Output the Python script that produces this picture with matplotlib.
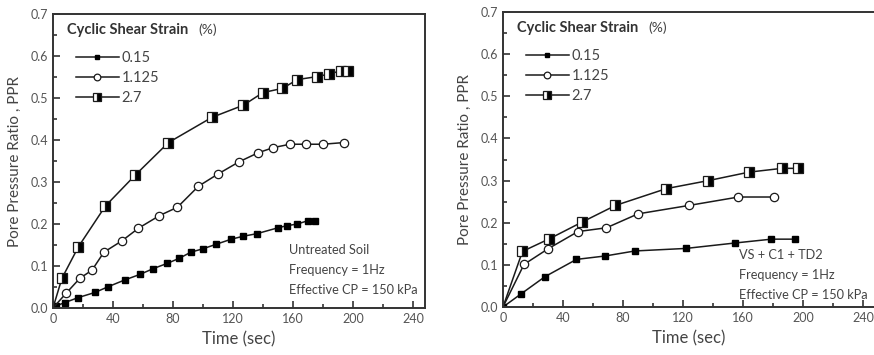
import matplotlib.pyplot as plt
from matplotlib.ticker import MultipleLocator

plt.rcParams["font.family"] = ["Lato", "DejaVu Sans"]

# left panel: untreated soil
t_a_015 = [0, 2, 8, 17, 28, 37, 48, 58, 67, 76, 84, 92, 100, 109, 119, 127, 136, 150, 156, 163, 170, 175]
p_a_015 = [0, 0.005, 0.013, 0.025, 0.037, 0.051, 0.067, 0.080, 0.094, 0.106, 0.118, 0.133, 0.141,
           0.152, 0.164, 0.171, 0.177, 0.191, 0.196, 0.200, 0.208, 0.208]
t_a_1125 = [0, 9, 18, 26, 34, 46, 57, 71, 83, 97, 110, 124, 137, 147, 158, 169, 180, 194]
p_a_1125 = [0, 0.036, 0.071, 0.090, 0.133, 0.160, 0.190, 0.220, 0.240, 0.290, 0.319, 0.348, 0.370,
            0.382, 0.390, 0.390, 0.390, 0.394]
t_a_27 = [0, 6, 17, 35, 55, 77, 106, 127, 140, 153, 163, 176, 184, 192, 197]
p_a_27 = [0, 0.071, 0.146, 0.243, 0.317, 0.394, 0.454, 0.483, 0.513, 0.523, 0.544, 0.551, 0.557, 0.565, 0.565]

# right panel: VS + C1 + TD2
t_b_015 = [0, 12, 28, 49, 68, 88, 122, 155, 179, 195]
p_b_015 = [0, 0.031, 0.072, 0.113, 0.121, 0.133, 0.139, 0.152, 0.161, 0.161]
t_b_1125 = [0, 14, 30, 50, 69, 90, 124, 157, 181]
p_b_1125 = [0, 0.101, 0.138, 0.179, 0.188, 0.221, 0.241, 0.261, 0.261]
t_b_27 = [0, 13, 31, 53, 75, 109, 137, 164, 186, 197]
p_b_27 = [0, 0.132, 0.162, 0.202, 0.241, 0.281, 0.300, 0.320, 0.329, 0.329]

labels = ["0.15", "1.125", "2.7"]
notes_a = ["Untreated Soil", "Frequency = 1Hz", "Effective CP = 150 kPa"]
notes_b = ["VS + C1 + TD2", "Frequency = 1Hz", "Effective CP = 150 kPa"]

fig = plt.figure(figsize=(8.74, 3.55), dpi=100)
ax1 = fig.add_axes([0.0606, 0.1324, 0.4256, 0.828])
ax2 = fig.add_axes([0.5755, 0.1352, 0.4256, 0.831])

lc = "#1a1a1a"
tc = "#555555"


def draw(ax, series, notes, note_y):
    (t1, p1), (t2, p2), (t3, p3) = series
    ax.plot(t1, p1, color=lc, lw=1.1, marker="s", ms=4.3, mfc="black", mec="black",
            label=labels[0])
    ax.plot(t2, p2, color=lc, lw=1.1, marker="o", ms=6, mfc="white", mec=lc, mew=0.9,
            markevery=list(range(1, len(t2))), label=labels[1])
    ax.plot(t3, p3, color=lc, lw=1.1, marker="s", ms=6.8, fillstyle="right", mfc="black",
            mfcalt="white", mec=lc, mew=0.9, markevery=list(range(1, len(t3))), label=labels[2])

    ax.set_xlim(0, 248)
    ax.set_ylim(0, 0.7)
    ax.xaxis.set_major_locator(MultipleLocator(40))
    ax.xaxis.set_minor_locator(MultipleLocator(20))
    ax.yaxis.set_major_locator(MultipleLocator(0.1))
    ax.yaxis.set_minor_locator(MultipleLocator(0.05))
    ax.yaxis.set_major_formatter(lambda v, pos: f"{v:.1f}")
    ax.tick_params(which="both", direction="in", colors="#333333", labelcolor=tc, labelsize=9,
                   width=1.2)
    ax.tick_params(which="major", length=5)
    ax.tick_params(which="minor", length=3)
    for s in ax.spines.values():
        s.set_linewidth(1.4)
        s.set_color("#333333")

    ax.set_xlabel("Time (sec)", fontsize=12, color="#444444", labelpad=5)
    ax.set_ylabel("Pore Pressure Ratio , PPR", fontsize=11, color="#444444", labelpad=6)

    ax.text(0.038, 0.946, "Cyclic Shear Strain", transform=ax.transAxes, fontsize=10.5,
            fontweight="bold", color="#333333", va="center")
    ax.text(0.39, 0.946, "(%)", transform=ax.transAxes, fontsize=10, color="#444444",
            va="center")
    leg = ax.legend(loc="upper left", bbox_to_anchor=(0.045, 0.893), frameon=False,
                    fontsize=10.5, handlelength=3.0, handletextpad=0.15, labelspacing=0.4,
                    borderaxespad=0, markerscale=0.8)
    for txt in leg.get_texts():
        txt.set_color("#444444")

    for i, n in enumerate(notes):
        ax.text(0.635, note_y - i * 0.068, n, transform=ax.transAxes, fontsize=9.2,
                color="#444444", va="center")


draw(ax1, [(t_a_015, p_a_015), (t_a_1125, p_a_1125), (t_a_27, p_a_27)], notes_a, 0.197)
draw(ax2, [(t_b_015, p_b_015), (t_b_1125, p_b_1125), (t_b_27, p_b_27)], notes_b, 0.176)

fig.savefig("out.png", dpi=100)
